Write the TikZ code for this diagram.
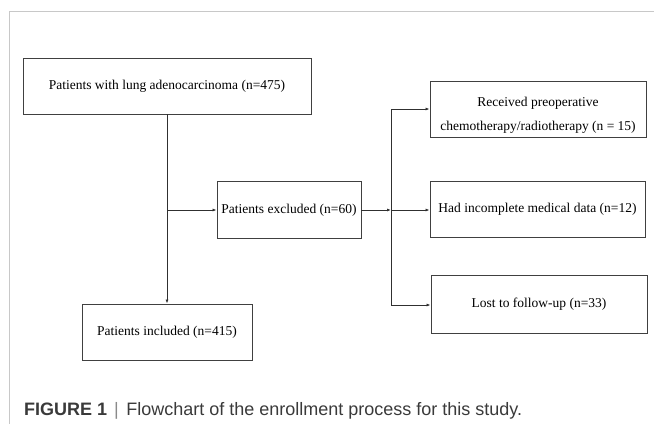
\documentclass[tikz,border=0pt]{standalone}
\usepackage{fontspec}
\setmainfont{Liberation Serif}
\newfontfamily\capfont{Liberation Sans}
\usetikzlibrary{arrows.meta}
\definecolor{framegray}{HTML}{C8C8C8}
\definecolor{boxgray}{HTML}{404040}
\definecolor{linegray}{HTML}{303030}
\definecolor{capgray}{HTML}{3A3A3A}
\definecolor{bargray}{HTML}{8A8A8A}
\begin{document}
\begin{tikzpicture}[x=1pt,y=-1pt,
  box/.style={draw=boxgray, line width=0.9pt, inner sep=0pt, align=center,
    font=\fontsize{13.5}{24}\selectfont, text=black},
  arr/.style={-{Latex[length=4pt,width=3pt]}, line width=0.8pt, draw=linegray},
  conn/.style={line width=0.8pt, draw=linegray}]
\useasboundingbox (0,0) rectangle (654,424);
\draw[framegray, line width=1.3pt] (654,11.7) -- (9.3,11.7) -- (9.3,424);

\node[box, minimum width=288pt, minimum height=56pt] (b1) at (167,86)
  {Patients with lung adenocarcinoma (n=475)};
\node[box, minimum width=144pt, minimum height=57pt] (ex) at (289,210)
  {Patients excluded (n=60)};
\node[box, minimum width=170pt, minimum height=56pt] (in) at (167,332)
  {Patients included (n=415)};
\node[box, minimum width=216pt, minimum height=56pt] (rc) at (538,109)
  {\raisebox{-5pt}[\height][\depth]{\begin{tabular}{@{}c@{}}Received preoperative\\chemotherapy/radiotherapy (n = 15)\end{tabular}}};
\node[box, minimum width=215pt, minimum height=56pt] (hi) at (537.5,209)
  {Had incomplete medical data (n=12)};
\node[box, minimum width=216pt, minimum height=58pt] (lo) at (539,304)
  {Lost to follow-up (n=33)};

\coordinate (j1) at (167,210);
\coordinate (j2) at (391,210);
\coordinate (j3) at (391,109);
\coordinate (j4) at (391,305);

\draw[arr] (b1.south) -- (in.north);
\draw[arr] (j1) -- (ex.west);
\draw[arr] (ex.east) -- (j2);
\draw[arr] (j2) -- (j2 -| hi.west);
\draw[conn] (j3) -- (j4);
\draw[arr] (j3) -- (rc.west);
\draw[arr] (j4) -- (j4 -| lo.west);

\node[anchor=base west, inner sep=0pt, text=capgray,
  font=\capfont\fontsize{18}{20}\selectfont] (cap) at (24,415)
  {\textbf{FIGURE 1}\hspace{7pt}{\color{bargray}|}\hspace{7.5pt}Flowchart of the enrollment process for this study.};
\end{tikzpicture}
\end{document}
